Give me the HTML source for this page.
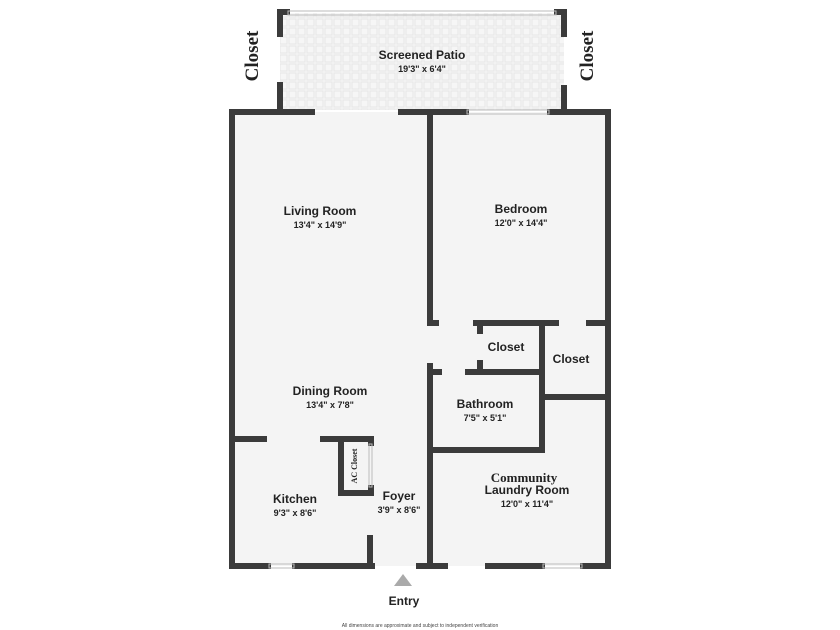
<!DOCTYPE html>
<html><head><meta charset="utf-8"><style>
body{margin:0;background:#fff}
svg{display:block}
.t{font-family:"Liberation Sans",sans-serif;font-weight:bold;font-size:12px;fill:#222;text-anchor:middle}
.d{font-family:"Liberation Sans",sans-serif;font-weight:bold;font-size:9px;fill:#222;text-anchor:middle}
.s{font-family:"Liberation Serif",serif;font-weight:bold;fill:#222;text-anchor:middle}
</style></head><body>
<svg width="840" height="630" viewBox="0 0 840 630">
<defs>
<pattern id="tile" width="9" height="9" patternUnits="userSpaceOnUse">
<rect width="9" height="9" fill="#f6f6f6"/>
<rect x="1" y="1" width="7" height="7" fill="none" stroke="#e6e6e6" stroke-width="1"/>
</pattern>
</defs>
<rect x="280" y="13" width="284" height="97" fill="url(#tile)"/>
<rect x="232" y="112" width="376" height="454" fill="#f4f4f4"/>
<g stroke="#3b3b3b" stroke-width="6" fill="none" stroke-linecap="square">
<line x1="280" y1="12" x2="280" y2="34"/><line x1="280" y1="85" x2="280" y2="109"/>
<line x1="564" y1="12" x2="564" y2="34"/><line x1="564" y1="88" x2="564" y2="109"/>
<line x1="280" y1="12" x2="287" y2="12"/><line x1="557" y1="12" x2="564" y2="12"/>
<line x1="232" y1="112" x2="312" y2="112"/><line x1="401" y1="112" x2="466" y2="112"/><line x1="550" y1="112" x2="608" y2="112"/>
<line x1="232" y1="112" x2="232" y2="566"/><line x1="608" y1="112" x2="608" y2="566"/>
<line x1="232" y1="566" x2="268" y2="566"/><line x1="295" y1="566" x2="372" y2="566"/>
<line x1="419" y1="566" x2="445" y2="566"/><line x1="488" y1="566" x2="542" y2="566"/><line x1="583" y1="566" x2="608" y2="566"/>
<line x1="430" y1="112" x2="430" y2="323"/>
<line x1="430" y1="323" x2="436" y2="323"/><line x1="476" y1="323" x2="556" y2="323"/><line x1="589" y1="323" x2="608" y2="323"/>
<line x1="480" y1="323" x2="480" y2="331"/><line x1="480" y1="363" x2="480" y2="372"/>
<line x1="468" y1="372" x2="542" y2="372"/>
<line x1="542" y1="323" x2="542" y2="450"/>
<line x1="542" y1="397" x2="608" y2="397"/>
<line x1="430" y1="366" x2="430" y2="566"/><line x1="430" y1="372" x2="439" y2="372"/>
<line x1="430" y1="450" x2="542" y2="450"/>
<line x1="232" y1="439" x2="264" y2="439"/>
<line x1="323" y1="439" x2="371" y2="439"/>
<line x1="341" y1="439" x2="341" y2="493"/><line x1="341" y1="493" x2="371" y2="493"/>
<line x1="371" y1="439" x2="371" y2="443"/><line x1="371" y1="488" x2="371" y2="493"/>
<line x1="370" y1="538" x2="370" y2="566"/>
</g>
<g stroke="#bbb" stroke-width="1" fill="none">
<rect x="288" y="11" width="268" height="4"/>
<rect x="467" y="110" width="82" height="4"/>
<rect x="269" y="564" width="25" height="4"/>
<rect x="543" y="564" width="39" height="4"/>
<rect x="369" y="444" width="3" height="43"/>
</g>
<polygon points="403,574 412,586 394,586" fill="#aaa"/>
<text class="s" font-size="19" transform="translate(258,56) rotate(-90)">Closet</text>
<text class="s" font-size="19" transform="translate(593,56) rotate(-90)">Closet</text>
<text class="s" font-size="8" transform="translate(357,466) rotate(-90)">AC Closet</text>
<text class="t" x="422" y="59">Screened Patio</text><text class="d" x="422" y="72">19'3" x 6'4"</text>
<text class="t" x="320" y="215">Living Room</text><text class="d" x="320" y="228">13'4" x 14'9"</text>
<text class="t" x="521" y="213">Bedroom</text><text class="d" x="521" y="226">12'0" x 14'4"</text>
<text class="t" x="506" y="351">Closet</text>
<text class="t" x="571" y="363">Closet</text>
<text class="t" x="330" y="395">Dining Room</text><text class="d" x="330" y="408">13'4" x 7'8"</text>
<text class="t" x="485" y="408">Bathroom</text><text class="d" x="485" y="421">7'5" x 5'1"</text>
<text class="s" font-size="13" x="524" y="482">Community</text>
<text class="t" x="527" y="494">Laundry Room</text><text class="d" x="527" y="507">12'0" x 11'4"</text>
<text class="t" x="295" y="503">Kitchen</text><text class="d" x="295" y="516">9'3" x 8'6"</text>
<text class="t" x="399" y="500">Foyer</text><text class="d" x="399" y="513">3'9" x 8'6"</text>
<text class="t" x="404" y="605">Entry</text>
<text x="420" y="627" font-family="Liberation Sans,sans-serif" font-size="5" fill="#444" text-anchor="middle">All dimensions are approximate and subject to independent verification</text>
</svg>
</body></html>
